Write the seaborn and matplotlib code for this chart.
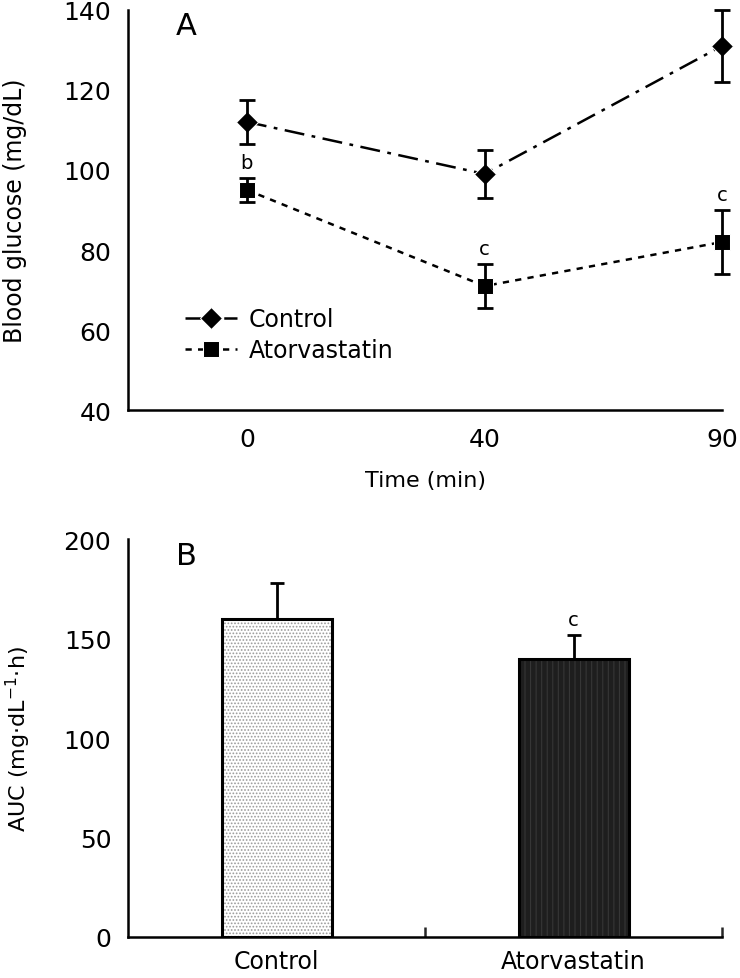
import numpy as np
import pandas as pd
import matplotlib
matplotlib.use('Agg')
import matplotlib.pyplot as plt
import seaborn as sns

# Panel A: blood glucose over time (mean +/- SE)
times = ['0', '40', '90']
control_mean = [112, 99, 131]
control_se = [5.5, 6, 9]
atorva_mean = [95, 71, 82]
atorva_se = [3, 5.5, 8]
atorva_marks = ['b', 'c', 'c']

# Panel B: AUC
groups = ['Control', 'Atorvastatin']
auc_mean = [160, 140]
auc_se = [18, 12]
auc_marks = ['', 'c']

sns.set_theme(style='white')
plt.rcParams['font.family'] = ['DejaVu Sans']
plt.rcParams['hatch.linewidth'] = 0.8
plt.rcParams['text.color'] = 'black'
plt.rcParams['axes.labelcolor'] = 'black'

df = pd.DataFrame({
    'time': times * 2,
    'glucose': control_mean + atorva_mean,
    'group': ['Control'] * 3 + ['Atorvastatin'] * 3,
})

fig = plt.figure(figsize=(7.4, 9.79), dpi=100)
ax1 = fig.add_axes([0.173, 0.580, 0.803, 0.409])
ax2 = fig.add_axes([0.173, 0.042, 0.803, 0.406])

# --- Panel A
sns.lineplot(data=df, x='time', y='glucose', hue='group', style='group',
             palette={'Control': 'black', 'Atorvastatin': 'black'},
             dashes={'Control': (8, 3, 1.5, 3), 'Atorvastatin': (2.5, 2.5)},
             markers={'Control': 'D', 'Atorvastatin': 's'},
             markersize=11, linewidth=1.8, ax=ax1, sort=False, clip_on=False)
ax1.errorbar(times, control_mean, yerr=control_se, fmt='none', ecolor='black',
             elinewidth=2, capsize=6, capthick=2, clip_on=False)
ax1.errorbar(times, atorva_mean, yerr=atorva_se, fmt='none', ecolor='black',
             elinewidth=2, capsize=6, capthick=2, clip_on=False)
for i, (m, e, t) in enumerate(zip(atorva_mean, atorva_se, atorva_marks)):
    ax1.text(i, m + e + 1.5, t, ha='center', va='bottom', fontsize=14)

ax1.set_xlim(-0.5, 2)
ax1.set_ylim(40, 140)
ax1.set_yticks([40, 60, 80, 100, 120, 140])
ax1.set_xlabel('Time (min)', fontsize=16, labelpad=14)
ax1.set_ylabel('Blood glucose (mg/dL)', fontsize=17, labelpad=26)
ax1.text(0.08, 0.96, 'A', transform=ax1.transAxes, fontsize=22, va='center')
leg = ax1.legend(loc='upper left', bbox_to_anchor=(0.06, 0.31), frameon=False,
                 fontsize=17, handlelength=2.2, handletextpad=0.5, labelspacing=0.3)

# --- Panel B
sns.barplot(x=groups, y=auc_mean, hue=groups, palette=['white', '#1e1e1e'],
            legend=False, width=0.37, errorbar=None, linewidth=0, ax=ax2)
for patch, h, hc in zip(ax2.patches, ['.....', '|||'], ['#9a9a9a', '#363636']):
    patch.set_hatch(h)
    patch.set_edgecolor(hc)
sns.barplot(x=groups, y=auc_mean, color='black', fill=False, width=0.37,
            errorbar=None, linewidth=2.2, ax=ax2)
ax2.errorbar(groups, auc_mean, yerr=[[0, 0], auc_se], fmt='none', ecolor='black',
             elinewidth=2, capsize=5, capthick=2)
for i, (m, e, t) in enumerate(zip(auc_mean, auc_se, auc_marks)):
    ax2.text(i, m + e + 3, t, ha='center', va='bottom', fontsize=14)

ax2.set_xlim(-0.5, 1.5)
ax2.set_ylim(0, 200)
ax2.set_yticks([0, 50, 100, 150, 200])
ax2.set_xticks([0.5, 1.5], minor=True)
ax2.set_ylabel('AUC (mg·dL$^{-1}$·h)', fontsize=16, labelpad=22)
ax2.set_xlabel('')
ax2.text(0.08, 0.96, 'B', transform=ax2.transAxes, fontsize=22, va='center')

for ax in (ax1, ax2):
    sns.despine(ax=ax)
    for s in ('left', 'bottom'):
        ax.spines[s].set_linewidth(1.8)
        ax.spines[s].set_color('black')
    ax.tick_params(axis='both', which='major', direction='in', length=7, width=1.8,
                   labelsize=18, colors='black', pad=12)
    ax.tick_params(axis='x', which='minor', direction='in', length=7, width=1.8,
                   bottom=True)
ax2.tick_params(axis='x', which='major', length=0, labelsize=17, pad=9)

fig.savefig('out.png', dpi=100)
